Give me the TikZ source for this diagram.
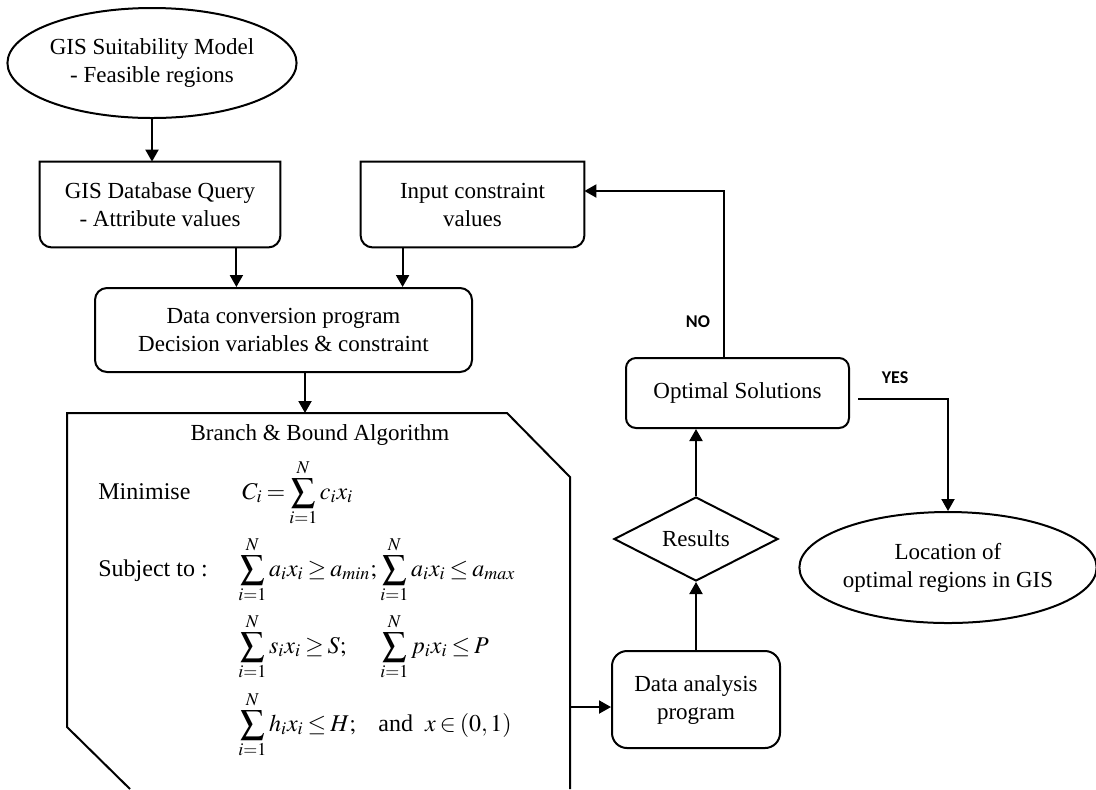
\documentclass[tikz,border=0pt]{standalone}
\usepackage{mathptmx}
\usepackage{fontspec}
\setmainfont{Liberation Serif}
\newfontfamily\answerfont{Carlito}
\usepackage{tikz}
\usetikzlibrary{arrows.meta}
\usetikzlibrary{shapes.geometric}
\newcommand{\tightrels}{\thickmuskip=3mu plus 2mu\relax}

\begin{document}
\begin{tikzpicture}[x=0.5pt, y=-0.5pt,
    every node/.style={font=\fontsize{11.5}{14}\selectfont, align=center},
    arr/.style={line width=1pt, -{Triangle[length=6pt,width=6.5pt]}},
    outline/.style={line width=1pt},
    roundbox/.style={draw, line width=1pt, rounded corners=6pt, inner sep=0pt},
    oval/.style={draw, ellipse, line width=1pt, inner sep=0pt},
    mathtxt/.style={anchor=west, inner sep=0pt, text height=8pt, text depth=2pt,
        font=\fontsize{12}{14}\selectfont, execute at begin node=\tightrels},
    answer/.style={font=\answerfont\bfseries\fontsize{9}{11}\selectfont}]
    \useasboundingbox (0,0) rectangle (1096,789);

    % left column
    \node (gisModel) [oval, minimum width=142pt, minimum height=55pt] at (152,63)
        {GIS Suitability Model\\- Feasible regions};
    \node (gisQuery) [inner sep=0pt, minimum width=120pt, minimum height=42.5pt] at (160,204.5)
        {GIS Database Query\\- Attribute values};
    \node (inputVal) [inner sep=0pt, minimum width=111.5pt, minimum height=42.5pt] at (472.5,204.5)
        {Input constraint\\values};
    \foreach \n in {gisQuery,inputVal}
        \draw [outline] (\n.north east) -- (\n.north west) [rounded corners=6pt]
            -- (\n.south west) -- (\n.south east) [sharp corners] -- (\n.north east) -- cycle;
    \node (dataConv) [roundbox, minimum width=188.5pt, minimum height=42pt] at (283.5,330)
        {Data conversion program\\Decision variables \& constraint};

    % branch and bound block
    \draw [outline] (130,789) -- (67,727) -- (67,413) -- (507,413) -- (570,477) -- (570,789);
    \coordinate (bbIn) at (305,413);
    \coordinate (bbOut) at (570,707);
    \node (bbTitle) at (320,435) {Branch \& Bound Algorithm};
    \node (minLbl) [mathtxt] at (98,493) {Minimise};
    \node (minEq) [mathtxt] at (242,493) {$\displaystyle C_i = \sum_{i=1}^{N} c_i x_i$};
    \node (subLbl) [mathtxt] at (98,570) {Subject to :};
    \node (r1a) [mathtxt] at (238,570) {$\displaystyle\sum_{i=1}^{N} a_i x_i \geq a_{min};$};
    \node (r1b) [mathtxt] at (380,570) {$\displaystyle\sum_{i=1}^{N} a_i x_i \leq a_{max}$};
    \node (r2a) [mathtxt] at (238,647) {$\displaystyle\sum_{i=1}^{N} s_i x_i \geq S;$};
    \node (r2b) [mathtxt] at (380,647) {$\displaystyle\sum_{i=1}^{N} p_i x_i \leq P$};
    \node (r3a) [mathtxt] at (238,725) {$\displaystyle\sum_{i=1}^{N} h_i x_i \leq H;$};
    \node (r3b) [mathtxt] at (378,725) {and\ \ $x \in (0,1)$};

    % right column
    \node (dataAna) [roundbox, rounded corners=7.5pt, minimum width=84pt, minimum height=48.5pt] at (696,699.5)
        {Data analysis\\program};
    \node (results) [draw, diamond, line width=1pt, inner sep=0pt, minimum width=82pt, minimum height=42pt] at (696,539)
        {Results};
    \node (optSol) [roundbox, rounded corners=5pt, minimum width=111.5pt, minimum height=35pt] at (737.5,393)
        {Optimal Solutions};
    \node (locGIS) [oval, minimum width=141pt, minimum height=55.5pt] at (948,567.5)
        {Location of\\optimal regions in GIS};

    % connectors
    \draw [arr] (gisModel.south) -- (gisModel.south |- gisQuery.north);
    \coordinate (q1) at ([xshift=-22pt]gisQuery.south east);
    \coordinate (q2) at ([xshift=21pt]inputVal.south west);
    \draw [arr] (q1) -- (q1 |- dataConv.north);
    \draw [arr] (q2) -- (q2 |- dataConv.north);
    \draw [arr] (bbIn |- dataConv.south) -- (bbIn);
    \draw [arr] (bbOut) -- (bbOut -| dataAna.west);
    \path [arr] (dataAna) edge (results);
    \draw [arr] (results.north) -- (results.north |- optSol.south);

    \coordinate (noTurn) at (724,191);
    \draw [arr] (noTurn |- optSol.north) -- (noTurn) -- (noTurn -| inputVal.east);
    \node (noLbl) [answer] at (698,322) {NO};

    \coordinate (yesStart) at (858,399);
    \coordinate (yesTurn) at (948,399);
    \draw [arr] (yesStart) -- (yesTurn) -- (yesTurn |- locGIS.north);
    \node (yesLbl) [answer] at (895,378) {YES};
\end{tikzpicture}
\end{document}
